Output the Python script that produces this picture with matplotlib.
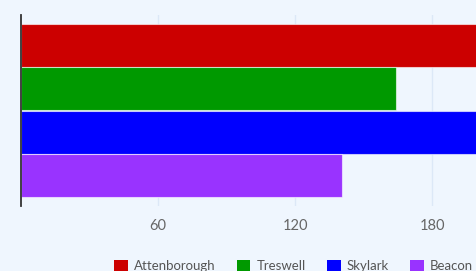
import matplotlib.pyplot as plt
from matplotlib.patches import Patch

# series values (Attenborough and Skylark run past the visible edge)
series = ['Attenborough', 'Treswell', 'Skylark', 'Beacon']
values = [215, 164, 222, 140.5]
colors = ['#cc0000', '#009900', '#0000ff', '#9933ff']
ticks = [60, 120, 180]

bg = '#eff6fe'
fig = plt.figure(figsize=(4.76, 2.71), dpi=100, facecolor=bg)
W, H = 476, 271
# axes run off the right side of the figure, like the reference crop
ax = fig.add_axes([21 / W, 1 - 206 / H, (560 - 21) / W, 191 / H], facecolor=bg)

pos = list(range(len(series)))
ax.barh(pos, values, height=1.0, color=colors, edgecolor=(1, 1, 1, 0.6), linewidth=0.8, zorder=2)

ax.set_ylim(3.72, -0.72)
ax.set_xlim(0, 236)
ax.set_yticks([])
ax.set_xticks(ticks)
ax.set_xticklabels([str(t) for t in ticks], fontfamily='Lato', fontsize=10.5, color='#666666')
ax.tick_params(axis='x', length=0, pad=9)
ax.grid(axis='x', color='#dce8f7', linewidth=1, zorder=0)

for s in ['top', 'right', 'bottom']:
    ax.spines[s].set_visible(False)
ax.spines['left'].set_color('#333333')
ax.spines['left'].set_linewidth(1.3)

handles = [Patch(facecolor=c, edgecolor='none') for c in colors]
fig.legend(handles, series, loc='center left', bbox_to_anchor=(114 / W, 5 / H),
           ncol=4, frameon=False, borderpad=0, borderaxespad=0,
           handlelength=1.05, handleheight=1.05, handletextpad=0.45, columnspacing=1.6,
           prop={'family': 'Lato', 'size': 9.5}, labelcolor='#555555')

fig.savefig('out.png', dpi=100, facecolor=bg)
